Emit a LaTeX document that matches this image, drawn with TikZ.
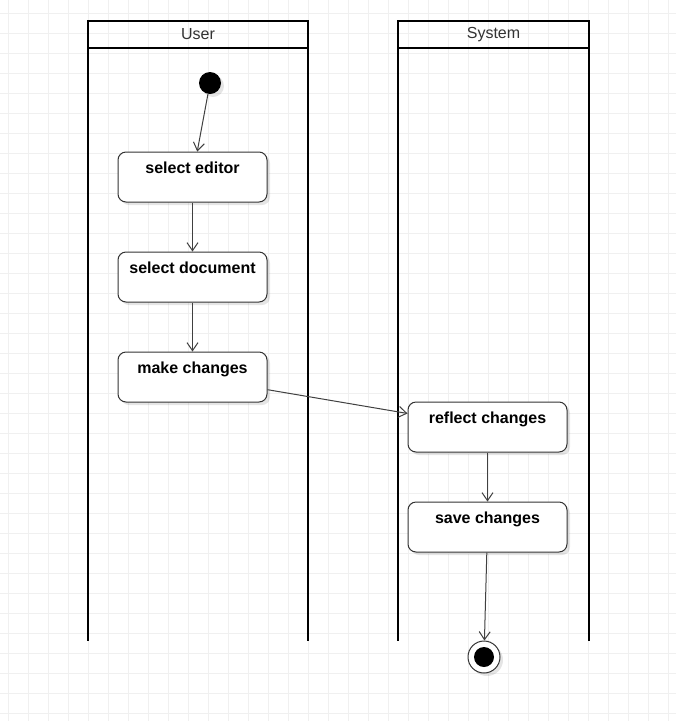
\documentclass[tikz,border=0pt]{standalone}
\usepackage{fontspec}
\setmainfont{Liberation Sans}
\usetikzlibrary{arrows.meta,shadows}
\tikzset{
  gridline/.style={draw=black!6, line width=0.8pt},
  lanehead/.style={draw, line width=2pt, minimum height=27pt, inner sep=0pt, font=\fontsize{16}{18}\selectfont, text=black!80},
  laneline/.style={draw, line width=2pt},
  soft/.style={drop shadow={shadow xshift=3pt, shadow yshift=-3pt, opacity=0.10, fill=black}},
  act/.style={draw=black!80, line width=1pt, rounded corners=8pt, fill=white, soft, minimum width=149pt, minimum height=50pt, inner ysep=9pt, text height=12pt, text depth=19pt, font=\bfseries\fontsize{16}{18}\selectfont},
  startnode/.style={circle, fill=black, minimum size=22pt, inner sep=0pt, soft},
  endnode/.style={circle, draw=black!80, line width=1pt, fill=white, minimum size=32pt, inner sep=0pt, soft,
    path picture={\fill[black] (path picture bounding box.center) circle (10pt);}},
  flow/.style={draw=black!75, line width=1pt, -{Straight Barb[length=8pt,width=11pt]}}}
\begin{document}
\begin{tikzpicture}[x=1pt,y=-1pt]
  \useasboundingbox (0,0) rectangle (676,721);
  \fill[white] (0,0) rectangle (676,721);
  \foreach \gx in {8,28,...,668} \draw[gridline] (\gx,0) -- (\gx,721);
  \foreach \gy in {13,33,...,713} \draw[gridline] (0,\gy) -- (676,\gy);
  % swimlanes
  \node[lanehead, minimum width=220pt] (userhead) at (198,34.5) {User};
  \node[lanehead, minimum width=191pt] (syshead) at (493.5,34.5) {System};
  \draw[laneline] (88,48) -- (88,641); \draw[laneline] (308,48) -- (308,641);
  \draw[laneline] (398,48) -- (398,641); \draw[laneline] (589,48) -- (589,641);
  % activities
  \node[startnode] (start) at (210,83) {};
  \node[act] (editor) at (192.5,177) {select editor};
  \node[act] (document) at (192.5,277) {select document};
  \node[act] (changes) at (192.5,377) {make changes};
  \node[act, minimum width=159pt] (reflect) at (487.5,427) {reflect changes};
  \node[act, minimum width=159pt] (save) at (487.5,527) {save changes};
  \node[endnode] (final) at (484,657) {};
  \draw[flow] (start) -- (editor);
  \draw[flow] (editor) -- (document);
  \draw[flow] (document) -- (changes);
  \draw[flow] (changes) -- (reflect);
  \draw[flow] (reflect) -- (save);
  \draw[flow] (save) -- (final);
\end{tikzpicture}
\end{document}
